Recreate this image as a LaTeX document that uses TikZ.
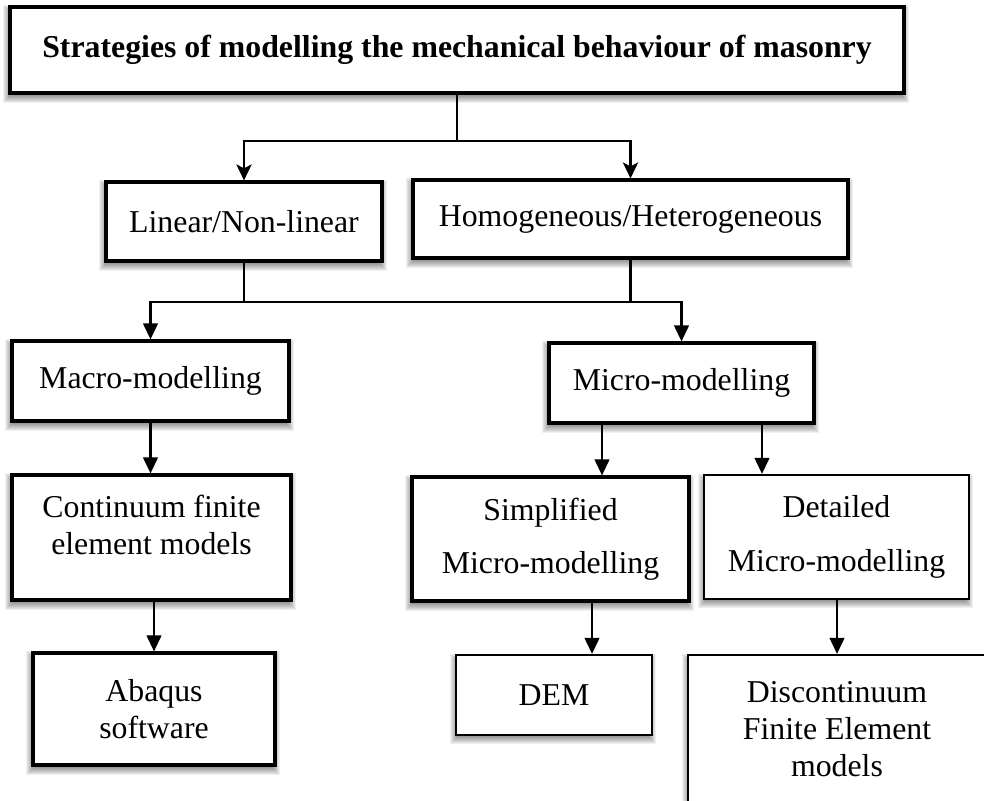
\documentclass[tikz,border=0pt]{standalone}
\usepackage{fontspec}
\setmainfont{Liberation Serif}
\usetikzlibrary{arrows.meta,calc,backgrounds}
\newcommand{\boxshadow}[1]{%
  \foreach \sk in {-3,-2,...,4}{%
    \fill[black,opacity=0.06] ($(#1.north west)+(-\sk-1,-\sk+4)$) rectangle ($(#1.south east)+(\sk-1,\sk+4)$);
  }}
\begin{document}
\begin{tikzpicture}[x=0.75pt,y=-0.75pt,
  wh/.style 2 args={minimum width=#1*0.75pt, minimum height=#2*0.75pt},
  bx/.style={draw=black, fill=white, line width=2.4pt, rectangle, inner sep=0pt, align=center,
             font=\fontsize{23.85}{27.75}\selectfont},
  thinbx/.style={bx, line width=1.7pt},
  wide/.style={font=\fontsize{23.85}{40}\selectfont},
  conn/.style={line width=1.6pt, draw=black},
  arrT/.style={conn, -{Triangle[length=12pt,width=11pt]}},
  arrS/.style={conn, -{Stealth[length=12pt,width=11.5pt,inset=3pt]}}]
\clip (0,0) rectangle (984,800);

\node[bx, wh={894}{86}] (top) at (457,50) {\textbf{Strategies of modelling the mechanical behaviour of masonry}};
\node[bx, wh={276}{79}] (lin) at (244,221.5) {Linear/Non-linear};
\node[bx, wh={435}{78}] (hom) at (630.5,219) {Homogeneous/Heterogeneous};
\node[bx, wh={277}{80}] (mac) at (150.5,381) {Macro-modelling};
\node[bx, wh={265}{80}] (mic) at (681.5,383) {Micro-modelling};
\node[bx, wh={279}{125}] (cont) at (151.5,537.5) {Continuum finite\\element models\\[-8pt]};
\node[bx, wh={242}{112}] (abq) at (154,709) {Abaqus\\software};
\node[bx, wide, wh={277}{124}] (sim) at (550.5,539) {Simplified\\Micro-modelling};
\node[thinbx, wide, wh={265}{124}] (det) at (836.5,537) {Detailed\\Micro-modelling};
\node[thinbx, wh={196}{80}] (dem) at (554,695) {DEM};
\node[thinbx, wh={298}{148}] (disc) at (837,729) {Discontinuum\\Finite Element\\models};

\begin{scope}[on background layer]
  \fill[white] (0,0) rectangle (984,800);
  \foreach \nm in {top,lin,hom,mac,mic,cont,abq,sim,det,dem,disc}{\boxshadow{\nm}}
\end{scope}

\coordinate (j1) at (457,141);
\coordinate (j2) at (416,302);
\draw[conn] (top.south) -- (j1);
\draw[arrS] (j1) -| (lin.north);
\draw[arrS] (j1) -| (hom.north);
\draw[conn] (lin.south) -- (lin.south |- j2);
\draw[conn] (hom.south) -- (hom.south |- j2);
\draw[arrT] (j2) -| (mac.north);
\draw[arrT] (j2) -| (mic.north);
\draw[arrT] (mac.south) -- (mac.south |- cont.north);
\draw[arrT] (abq.north |- cont.south) -- (abq.north);
\draw[arrT] (mic.south -| 602,0) -- (sim.north -| 602,0);
\draw[arrT] (mic.south -| 762,0) -- (det.north -| 762,0);
\draw[arrT] (sim.south -| 592,0) -- (dem.north -| 592,0);
\draw[arrT] (disc.north |- det.south) -- (disc.north);
\end{tikzpicture}
\end{document}
